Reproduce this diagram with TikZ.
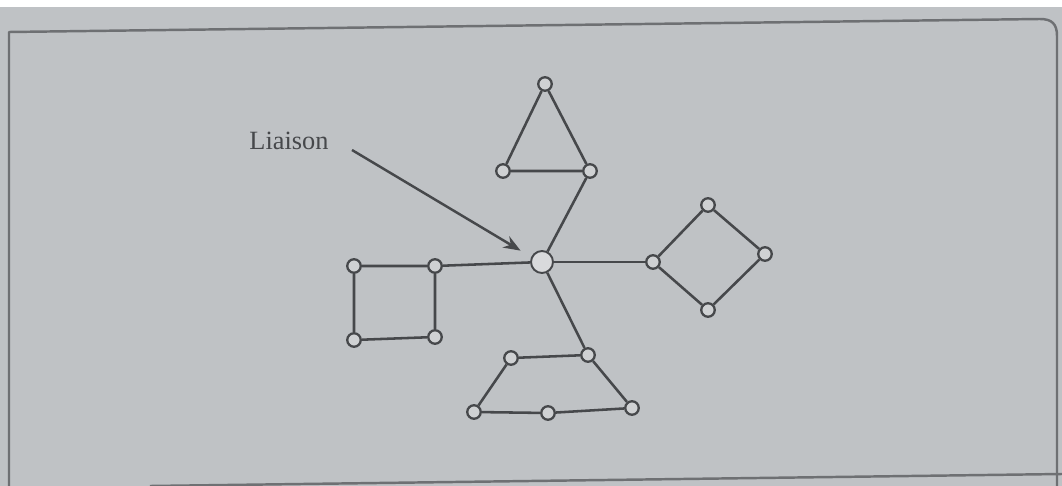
\documentclass[tikz,border=0pt]{standalone}
\usepackage{fontspec}
\setmainfont{Liberation Serif}
\usetikzlibrary{arrows.meta}
\definecolor{page}{HTML}{BFC2C5}
\definecolor{ink}{HTML}{46484B}
\definecolor{inkgray}{HTML}{6E7073}
\tikzset{
  dot/.style={circle,draw=ink,fill=page!75!white,line width=1.3pt,
              minimum size=0.27cm,inner sep=0pt},
  hub/.style={circle,draw=ink,fill=page!60!white,line width=1.1pt,
              minimum size=0.44cm,inner sep=0pt},
  link/.style={draw=ink,line width=1.45pt},
  framing/.style={draw=inkgray,line width=1.4pt,line join=round},
  liaisonarr/.style={-{Stealth[length=3.4mm,width=2.6mm]},line width=1.4pt,
                     draw=ink,shorten >=7pt}
}
\begin{document}
\begin{tikzpicture}[x=0.02cm,y=-0.02cm]
    \path[use as bounding box] (0,0) rectangle (1062,486);
    \fill[white] (0,0) rectangle (1062,486);
    \fill[page] (0,7) rectangle (1062,486);

    % frame of the page
    \draw[framing] (9,486) -- (9,32) -- (1040,19)
      .. controls (1052,19) and (1057,24) .. (1057,36) -- (1057,486);
    \draw[framing] (150,486) -- (1062,474);

    % hub and its label
    \node[hub] (hub) at (542,262) {};
    \node[font=\fontsize{15}{18}\selectfont,text=ink] (lbl) at (289,141) {Liaison};
    \coordinate (tail) at (352,150);
    \draw[liaisonarr] (tail) -- (hub.155);

    % top triangle
    \node[dot] (tA) at (545,84) {};
    \node[dot] (tL) at (503,171) {};
    \node[dot] (tR) at (590,171) {};
    \draw[link] (tA) -- (tL) -- (tR) -- (tA);
    \draw[link] (tR) -- (hub);

    % right diamond
    \node[dot] (dL) at (653,262) {};
    \node[dot] (dT) at (708,205) {};
    \node[dot] (dR) at (765,254) {};
    \node[dot] (dB) at (708,310) {};
    \draw[link] (dL) -- (dT) -- (dR) -- (dB) -- (dL);
    \draw[link] (hub) -- (dL);

    % left square
    \node[dot] (sTL) at (354,266) {};
    \node[dot] (sTR) at (435,266) {};
    \node[dot] (sBL) at (354,340) {};
    \node[dot] (sBR) at (435,337) {};
    \draw[link] (sTL) -- (sTR) -- (sBR) -- (sBL) -- (sTL);
    \draw[link] (sTR) -- (hub);

    % bottom ring
    \node[dot] (b1) at (588,355) {};
    \node[dot] (b2) at (511,358) {};
    \node[dot] (b3) at (474,412) {};
    \node[dot] (b4) at (548,413) {};
    \node[dot] (b5) at (632,408) {};
    \draw[link] (b1) -- (b2) -- (b3) -- (b4) -- (b5) -- (b1);
    \draw[link] (hub) -- (b1);
  \end{tikzpicture}
\end{document}
